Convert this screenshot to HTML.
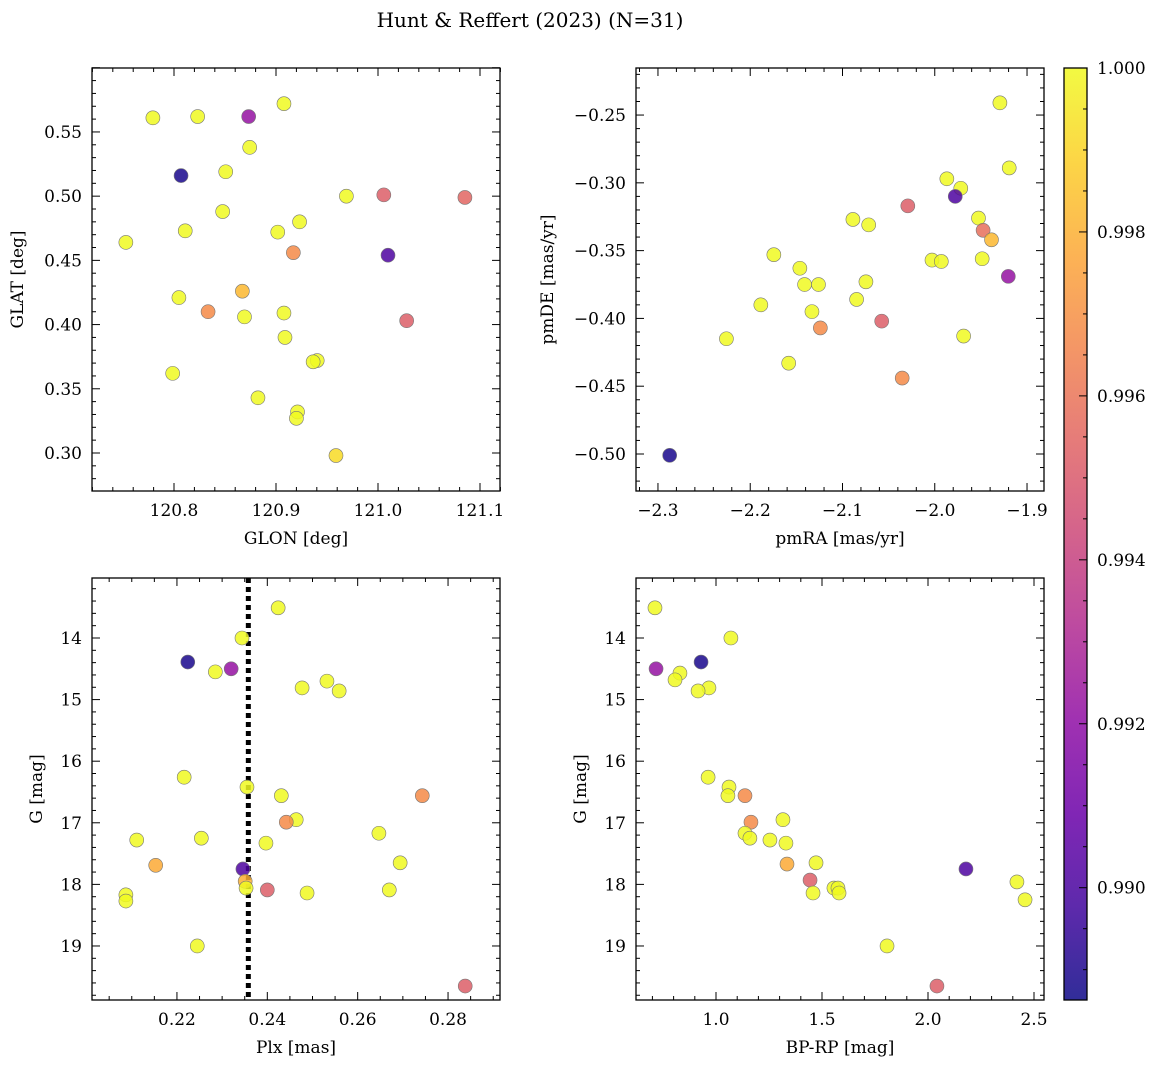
<!DOCTYPE html>
<html><head><meta charset="utf-8">
<style>
html,body{margin:0;padding:0;background:#fff;}
svg{display:block;font-family:"DejaVu Serif","Liberation Serif",serif;}
</style></head>
<body>
<svg id="fig" width="1161" height="1068" viewBox="0 0 1161 1068">
<text x="530" y="27" font-size="20" text-anchor="middle">Hunt &amp; Reffert (2023) (N=31)</text>
</svg>
<script>
// ---------- data ----------
const glon = [120.7793,120.8232,120.8732,120.9078,120.8742,120.8069,120.8507,120.8477,120.8110,120.7528,120.9017,120.9231,120.9690,121.0057,121.0852,120.9170,121.0098,120.8670,120.8048,120.8334,120.8691,120.9078,120.9088,120.9404,120.9364,121.0281,120.7987,120.8823,120.9211,120.9200,120.9588];
const glat = [0.561,0.562,0.562,0.572,0.538,0.516,0.519,0.488,0.473,0.464,0.472,0.480,0.500,0.501,0.499,0.456,0.454,0.426,0.421,0.410,0.406,0.409,0.390,0.372,0.371,0.403,0.362,0.343,0.332,0.327,0.298];
const probPos = [1,1,0.9922,1,1,0.9889,1,1,1,1,1,1,1,0.9952,0.9955,0.9968,0.9901,0.9982,1,0.9968,1,1,1,1,1,0.9952,1,1,1,1,0.9992];

const pmra = [-1.9294,-1.9193,-1.9869,-1.9718,-1.9778,-2.0292,-1.9526,-1.9476,-1.9385,-2.0887,-2.0716,-2.1744,-2.0030,-1.9929,-1.9486,-2.1462,-2.1411,-2.1260,-2.0746,-1.9203,-2.0847,-2.1885,-2.1331,-2.0575,-2.1240,-1.9687,-2.2258,-2.1583,-2.0353,-2.2873];
const pmde = [-0.241,-0.289,-0.297,-0.304,-0.310,-0.317,-0.326,-0.335,-0.342,-0.327,-0.331,-0.353,-0.357,-0.358,-0.356,-0.363,-0.375,-0.375,-0.373,-0.369,-0.386,-0.390,-0.395,-0.402,-0.407,-0.413,-0.415,-0.433,-0.444,-0.501];
const probPm = [1,1,1,1,0.9901,0.9952,1,0.9958,0.9982,1,1,1,1,1,1,1,1,1,1,0.9922,1,1,1,0.9952,0.9968,1,1,1,0.9968,0.9889];

const plx = [0.2424,0.2344,0.2224,0.2320,0.2285,0.2477,0.2532,0.2559,0.2216,0.2355,0.2431,0.2743,0.2464,0.2442,0.2647,0.2254,0.2111,0.2397,0.2153,0.2694,0.2346,0.2351,0.2353,0.2400,0.2488,0.2670,0.2087,0.2087,0.2245,0.2838];
const gPlx = [13.51,14.00,14.39,14.50,14.55,14.81,14.70,14.86,16.26,16.42,16.56,16.56,16.95,16.99,17.17,17.25,17.28,17.33,17.69,17.65,17.75,17.95,18.06,18.09,18.14,18.09,18.17,18.27,19.00,19.65];
const probPlx = [1,1,0.9889,0.9922,1,1,1,1,1,1,1,0.9968,1,0.9968,1,1,1,1,0.9978,1,0.9901,0.9980,1,0.9952,1,1,1,1,1,0.9952];
const plxMean = [0.2358];

const bprp = [0.7121,1.0703,0.7172,0.9295,0.8299,0.8067,0.9667,0.9154,0.9627,1.0613,1.0562,1.1367,1.1649,1.3158,1.1367,1.1599,1.2544,1.3299,1.3349,1.4718,2.1791,1.4436,2.4195,1.5563,1.5754,1.5804,1.4577,2.4578,1.8068,2.0422];
const gCmd = [13.51,14.00,14.50,14.39,14.57,14.68,14.81,14.86,16.26,16.42,16.56,16.56,16.99,16.95,17.17,17.25,17.28,17.33,17.67,17.65,17.75,17.93,17.96,18.06,18.06,18.14,18.14,18.25,19.00,19.65];
const probCmd = [1,1,0.9922,0.9889,1,1,1,1,1,1,1,0.9968,0.9968,1,1,1,1,1,0.9978,1,0.9901,0.9952,1,1,1,1,1,1,1,0.9952];

const ticksGlon = [120.8,120.9,121.0,121.1];
const ticksGlat = [0.30,0.35,0.40,0.45,0.50,0.55];
const ticksPmra = [-2.3,-2.2,-2.1,-2.0,-1.9];
const ticksPmde = [-0.50,-0.45,-0.40,-0.35,-0.30,-0.25];
const ticksPlx = [0.22,0.24,0.26,0.28];
const ticksG = [14,15,16,17,18,19];
const ticksBprp = [1.0,1.5,2.0,2.5];
const ticksCbar = [0.990,0.992,0.994,0.996,0.998,1.000];

// ---------- helpers ----------
const NS="http://www.w3.org/2000/svg";
const svg=document.getElementById('fig');
function mk(tag,attrs,parent){const e=document.createElementNS(NS,tag);for(const k in attrs)e.setAttribute(k,attrs[k]);(parent||svg).appendChild(e);return e;}
const stops=["#0d0887","#41049d","#6a00a8","#8f0da4","#b12a90","#cc4778","#e16462","#f2844b","#fca636","#fcce25","#f0f921"];
function hex(h){return [1,3,5].map(i=>parseInt(h.substr(i,2),16));}
function plasma(t){t=Math.max(0,Math.min(1,t));const f=t*10,i=Math.min(9,Math.floor(f)),u=f-i;const a=hex(stops[i]),b=hex(stops[i+1]);return 'rgb('+a.map((v,k)=>Math.round(v+(b[k]-v)*u)).join(',')+')';}
const cmin=0.98863,cmax=1.0;
function cmap(p){return plasma((p-cmin)/(cmax-cmin));}

function panel(o){
  const g=mk('g',{});  
  const X=v=>o.L+(v-o.x0)/(o.x1-o.x0)*(o.R-o.L);
  const Y=o.invY?(v=>o.T+(v-o.y0)/(o.y1-o.y0)*(o.B-o.T)):(v=>o.B-(v-o.y0)/(o.y1-o.y0)*(o.B-o.T));
  function ticks(arr,nd,axis){
    const step=arr[1]-arr[0];
    for(let k=-1;k<=arr.length;k++){
      const base=arr[0]+k*step;
      for(let j=0;j<nd;j++){
        const v=base+j*step/nd; const major=(j===0);
        if(axis==='x'){const px=X(v); if(px<o.L-0.5||px>o.R+0.5)continue; const len=major?8:4;
          mk('line',{x1:px,x2:px,y1:o.B,y2:o.B-len,stroke:'#000','stroke-width':1},g);
          mk('line',{x1:px,x2:px,y1:o.T,y2:o.T+len,stroke:'#000','stroke-width':1},g);}
        else{const py=Y(v); if(py<o.T-0.5||py>o.B+0.5)continue; const len=major?8:4;
          mk('line',{x1:o.L,x2:o.L+len,y1:py,y2:py,stroke:'#000','stroke-width':1},g);
          mk('line',{x1:o.R,x2:o.R-len,y1:py,y2:py,stroke:'#000','stroke-width':1},g);}
      }
    }
  }
  ticks(o.xt,o.xnd,'x'); ticks(o.yt,o.ynd,'y');
  o.xt.forEach(v=>{const t=mk('text',{x:X(v),y:o.B+25,'font-size':17,'text-anchor':'middle'},g);t.textContent=v.toFixed(o.xdec).replace('-','\u2212');
    
    });
  o.yt.forEach(v=>{const t=mk('text',{x:o.L-10,y:Y(v)+6,'font-size':17,'text-anchor':'end'},g);t.textContent=v.toFixed(o.ydec).replace('-','\u2212');
    
    });
  const xl=mk('text',{x:(o.L+o.R)/2,y:o.B+53,'font-size':17,'text-anchor':'middle'},g);xl.textContent=o.xlab;
  
  
  const yl=mk('text',{x:0,y:0,'font-size':17,'text-anchor':'middle',transform:`translate(${o.ylx},${(o.T+o.B)/2}) rotate(-90)`},g);yl.textContent=o.ylab;
  
  
  if(o.vline!==undefined){const l=mk('line',{x1:X(o.vline),x2:X(o.vline),y1:o.T,y2:o.B,stroke:'#000','stroke-width':5,'stroke-dasharray':'5,4'},g);
    
    }
  o.xs.forEach((v,i)=>{const c=mk('circle',{cx:X(v),cy:Y(o.ys[i]),r:7,fill:cmap(o.ps[i]),'fill-opacity':0.85,stroke:'#777','stroke-width':0.6},g);
    
    });
  const fr=mk('rect',{x:o.L,y:o.T,width:o.R-o.L,height:o.B-o.T,fill:'none',stroke:'#000','stroke-width':1.3},g);
  
  
}

panel({name:'glon-glat-panel',L:92,R:500,T:68,B:491,x0:120.7196,x1:121.1196,y0:0.2704,y1:0.5998,xt:ticksGlon,yt:ticksGlat,xnd:5,ynd:5,xdec:1,ydec:2,xlab:'GLON [deg]',ylab:'GLAT [deg]',ylx:23,xs:glon,ys:glat,ps:probPos});
panel({name:'proper-motion-panel',L:636,R:1044,T:68,B:491,x0:-2.3238,x1:-1.8816,y0:-0.5273,y1:-0.2153,xt:ticksPmra,yt:ticksPmde,xnd:5,ynd:5,xdec:1,ydec:2,xlab:'pmRA [mas/yr]',ylab:'pmDE [mas/yr]',ylx:553,xs:pmra,ys:pmde,ps:probPm});
panel({name:'parallax-mag-panel',L:92,R:500,T:578,B:1000,x0:0.2012,x1:0.2915,y0:13.026,y1:19.877,invY:true,xt:ticksPlx,yt:ticksG,xnd:4,ynd:5,xdec:2,ydec:0,xlab:'Plx [mas]',ylab:'G [mag]',ylx:42,xs:plx,ys:gPlx,ps:probPlx,vline:plxMean[0]});
panel({name:'cmd-panel',L:636,R:1044,T:578,B:1000,x0:0.6226,x1:2.5472,y0:13.026,y1:19.877,invY:true,xt:ticksBprp,yt:ticksG,xnd:5,ynd:5,xdec:1,ydec:0,xlab:'BP-RP [mag]',ylab:'G [mag]',ylx:586,xs:bprp,ys:gCmd,ps:probCmd});

// colorbar
(function(){
  const L=1064,R=1087,T=68,B=1000;
  const g=mk('g',{});  
  const defs=mk('defs',{},g);
  const lg=mk('linearGradient',{id:'cb',x1:0,y1:1,x2:0,y2:0},defs);
  for(let i=0;i<=10;i++)mk('stop',{offset:i/10,'stop-color':stops[i],'stop-opacity':0.85},lg);
  mk('rect',{x:L,y:T,width:R-L,height:B-T,fill:'url(#cb)'},g);
  const Y=v=>B-(v-cmin)/(cmax-cmin)*(B-T);
  const step=ticksCbar[1]-ticksCbar[0];
  for(let k=-1;k<ticksCbar.length;k++)for(let j=0;j<4;j++){
    const v=ticksCbar[0]+k*step+j*step/4,py=Y(v);if(py<T-0.5||py>B+0.5)continue;
    mk('line',{x1:R,x2:R-(j?4:8),y1:py,y2:py,stroke:'#000','stroke-width':1},g);}
  ticksCbar.forEach(v=>{const t=mk('text',{x:1097,y:Y(v)+6,'font-size':17},g);t.textContent=v.toFixed(3);
    
    });
  mk('rect',{x:L,y:T,width:R-L,height:B-T,fill:'none',stroke:'#000','stroke-width':1.3},g);
})();
</script>
</body></html>
